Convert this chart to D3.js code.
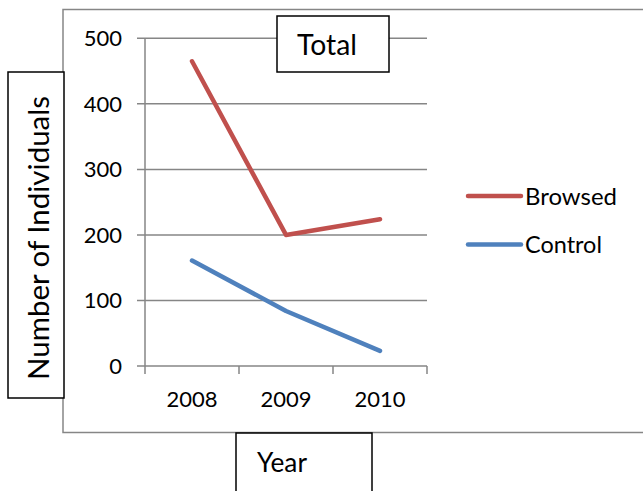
<!DOCTYPE html>
<html><head><meta charset="utf-8">
<script src="https://cdn.jsdelivr.net/npm/d3@7"></script>
<style>body{margin:0;background:#fff}svg{display:block}text{font-family:Lato,"Open Sans",sans-serif;fill:#000}</style>
</head><body><svg id="c" width="643" height="491"></svg>
<script>
const years = ["2008","2009","2010"];
const browsed = [465, 200, 224];
const control = [161, 84, 23];
const yTicks = [0,100,200,300,400,500];
const seriesNames = ["Browsed","Control"];
const seriesColors = ["#C0504D","#4F81BD"];

const svg = d3.select("#c");
const fs = 22;
// size text so its width matches a target width
function fit(sel, w){
  const n = sel.node(); const cur = n.getComputedTextLength();
  const f = parseFloat(sel.attr("font-size"));
  sel.attr("font-size", f*w/cur);
  return sel;
}
// outer chart border
svg.append("rect").attr("x",63).attr("y",9.5).attr("width",600).attr("height",423).attr("fill","none").attr("stroke","#868686").attr("stroke-width",1.5);

const x = d3.scaleBand().domain(years).range([145,427]);
const y = d3.scaleLinear().domain([0,500]).range([366,38.3]);

svg.append("g").selectAll("line").data(yTicks).join("line")
  .attr("x1",137).attr("x2",427).attr("y1",d=>y(d)).attr("y2",d=>y(d))
  .attr("stroke","#868686").attr("stroke-width",1.5);
svg.append("line").attr("x1",145).attr("x2",145).attr("y1",y(500)).attr("y2",y(0)).attr("stroke","#868686").attr("stroke-width",1.5);
const bounds = years.map(d=>x(d)).concat([427]);
svg.append("g").selectAll("line").data(bounds).join("line")
  .attr("x1",d=>d).attr("x2",d=>d).attr("y1",y(0)).attr("y2",y(0)+8)
  .attr("stroke","#868686").attr("stroke-width",1.5);
svg.append("g").selectAll("text").data(yTicks).join("text")
  .attr("x",122).attr("y",d=>y(d)+8).attr("text-anchor","end").attr("font-size",fs).text(d=>d);
svg.append("g").selectAll("text").data(years).join("text")
  .attr("x",d=>x(d)+x.bandwidth()/2).attr("y",407).attr("text-anchor","middle").attr("font-size",fs).text(d=>d);

const line = d3.line().x((d,i)=>x(years[i])+x.bandwidth()/2).y(d=>y(d));
[browsed, control].forEach((s,i)=>{
  svg.append("path").attr("d",line(s)).attr("fill","none").attr("stroke",seriesColors[i])
    .attr("stroke-width",4.5).attr("stroke-linecap","round").attr("stroke-linejoin","round");
});

const ly = [196,244.5];
const lw = [92,77];
seriesNames.forEach((n,i)=>{
  svg.append("line").attr("x1",468).attr("x2",521).attr("y1",ly[i]).attr("y2",ly[i])
    .attr("stroke",seriesColors[i]).attr("stroke-width",4.5).attr("stroke-linecap","round");
  fit(svg.append("text").attr("x",525).attr("y",ly[i]+8.5).attr("font-size",fs).text(n), lw[i]);
});

svg.append("rect").attr("x",277).attr("y",16).attr("width",112).attr("height",56).attr("fill","#fff").attr("stroke","#000").attr("stroke-width",1.5);
fit(svg.append("text").attr("x",297).attr("y",55).attr("font-size",fs).text("Total"), 60);
svg.append("rect").attr("x",8).attr("y",72).attr("width",56).attr("height",326).attr("fill","#fff").attr("stroke","#000").attr("stroke-width",1.5);
fit(svg.append("text").attr("transform","translate(49,380) rotate(-90)").attr("font-size",fs).text("Number of Individuals"), 284);
svg.append("rect").attr("x",236).attr("y",433).attr("width",136).attr("height",70).attr("fill","#fff").attr("stroke","#000").attr("stroke-width",1.5);
fit(svg.append("text").attr("x",257).attr("y",471.5).attr("font-size",fs).text("Year"), 50);
</script></body></html>
